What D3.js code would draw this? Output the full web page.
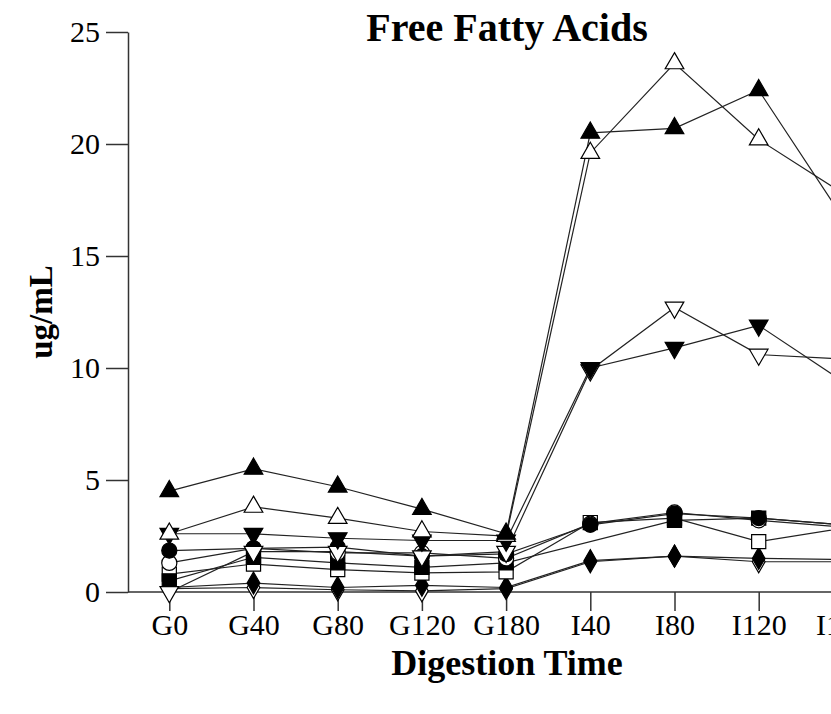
<!DOCTYPE html>
<html>
<head>
<meta charset="utf-8">
<script src="https://cdn.jsdelivr.net/npm/d3@7"></script>
<style>
  body { margin: 0; background: #fff; }
  svg { display: block; }
  text { font-family: "Liberation Serif", "Times New Roman", serif; }
</style>
</head>
<body>
<script>
// categories and tick values
var times = ["G0", "G40", "G80", "G120", "G180", "I40", "I80", "I120", "I160"];
var y_ticks = [0, 5, 10, 15, 20, 25];

// series values, ug/mL (null = not measured)
var tri_up_filled   = [4.5, 5.5, 4.7, 3.7, 2.6, 20.5, 20.7, 22.4, 16.7];
var tri_up_open     = [2.6, 3.8, 3.3, 2.7, 2.5, 19.6, 23.6, 20.2, 17.8];
var tri_down_filled = [2.6, 2.6, 2.4, 2.3, 2.3, 10.0, 10.9, 11.9, 9.4];
var tri_down_open   = [0.0, 1.8, 1.8, 1.6, 1.8, 9.9, 12.7, 10.6, 10.4];
var circle_filled   = [1.85, 1.95, 2.0, 1.6, 1.7, 3.0, 3.5, 3.3, 3.0];
var circle_open     = [1.3, 1.95, 1.75, 1.75, 1.5, 3.05, 3.55, 3.2, 2.9];
var square_filled   = [0.5, 1.55, 1.3, 1.1, 1.3, null, 3.2, 3.3, 3.0];
var square_open     = [0.8, 1.25, 1.0, 0.85, 0.9, 3.1, 3.3, 2.25, 2.85];
var diamond_filled  = [0.2, 0.4, 0.2, 0.3, 0.2, 1.4, 1.6, 1.5, 1.45];
var diamond_open    = [0.15, 0.2, 0.1, 0.05, 0.15, 1.35, 1.6, 1.35, 1.35];

var width = 831,
    height = 714;

var x0 = 128, y0 = 592, y_top = 32;
var step = 84.2;

var svg = d3.select("body").append("svg")
    .attr("width", width)
    .attr("height", height);

var x = d3.scalePoint()
    .domain(times)
    .range([169.3, 169.3 + step * (times.length - 1)]);

var y = d3.scaleLinear()
    .domain([0, 25])
    .range([y0, y_top]);

// series in drawing order: symbol, filled
var series = [
  {values: diamond_open,    sym: d3.symbolDiamond,  fill: "#fff"},
  {values: diamond_filled,  sym: d3.symbolDiamond,  fill: "#000"},
  {values: square_open,     sym: d3.symbolSquare,   fill: "#fff"},
  {values: square_filled,   sym: d3.symbolSquare,   fill: "#000"},
  {values: circle_open,     sym: d3.symbolCircle,   fill: "#fff"},
  {values: circle_filled,   sym: d3.symbolCircle,   fill: "#000"},
  {values: tri_down_open,   sym: "down",            fill: "#fff"},
  {values: tri_down_filled, sym: "down",            fill: "#000"},
  {values: tri_up_open,     sym: d3.symbolTriangle, fill: "#fff"},
  {values: tri_up_filled,   sym: d3.symbolTriangle, fill: "#000"}
];

function points(s){
  return times.map(function(t, i){ return {t: t, v: s.values[i]}; })
    .filter(function(d){ return d.v !== null; });
}

var line = d3.line()
    .x(function(d){ return x(d.t); })
    .y(function(d){ return y(d.v); });

// axes
var yAxis = d3.axisLeft(y).tickValues(y_ticks).tickSize(22).tickPadding(6).tickSizeOuter(0);
var gy = svg.append("g").attr("transform", "translate(" + x0 + ",0)").call(yAxis);

var xAxis = d3.axisBottom(x).tickSize(19).tickPadding(3).tickSizeOuter(0);
var gx = svg.append("g").attr("transform", "translate(0," + y0 + ")").call(xAxis);
gx.select(".domain").attr("d", "M" + x0 + ",0H" + (width + 20));

svg.selectAll(".tick text")
    .style("font-size", "30px")
    .style("font-family", "Liberation Serif, serif")
    .attr("fill", "#000");
svg.selectAll(".domain, .tick line").attr("stroke", "#333").attr("stroke-width", 1.5);

// lines
svg.append("g").selectAll("path")
    .data(series)
  .enter().append("path")
    .attr("d", function(s){ return line(points(s)); })
    .attr("fill", "none")
    .attr("stroke", "#222")
    .attr("stroke-width", 1.2);

// markers
var tri = d3.symbol().type(d3.symbolTriangle).size(150);
svg.append("g").selectAll("g")
    .data(series)
  .enter().append("g")
    .each(function(s){
      var path;
      if (s.sym === "down")
        path = tri();
      else if (s.sym === d3.symbolDiamond)
        path = d3.symbol().type(s.sym).size(140)();
      else if (s.sym === d3.symbolSquare)
        path = d3.symbol().type(s.sym).size(200)();
      else if (s.sym === d3.symbolCircle)
        path = d3.symbol().type(s.sym).size(180)();
      else
        path = tri();
      d3.select(this).selectAll("path")
          .data(points(s))
        .enter().append("path")
          .attr("d", path)
          .attr("transform", function(d){
            return "translate(" + x(d.t) + "," + y(d.v) + ")" + (s.sym === "down" ? " rotate(180)" : "");
          })
          .attr("fill", s.fill)
          .attr("stroke", "#000")
          .attr("stroke-width", 1.2);
    });

// titles
svg.append("text")
    .attr("x", 507).attr("y", 41)
    .attr("text-anchor", "middle")
    .style("font-size", "40px").style("font-weight", "bold")
    .text("Free Fatty Acids");

svg.append("text")
    .attr("x", 507).attr("y", 675)
    .attr("text-anchor", "middle")
    .style("font-size", "36px").style("font-weight", "bold")
    .text("Digestion Time");

svg.append("text")
    .attr("transform", "translate(52,312) rotate(-90)")
    .attr("text-anchor", "middle")
    .style("font-size", "33px").style("font-weight", "bold")
    .text("ug/mL");
</script>
</body>
</html>
